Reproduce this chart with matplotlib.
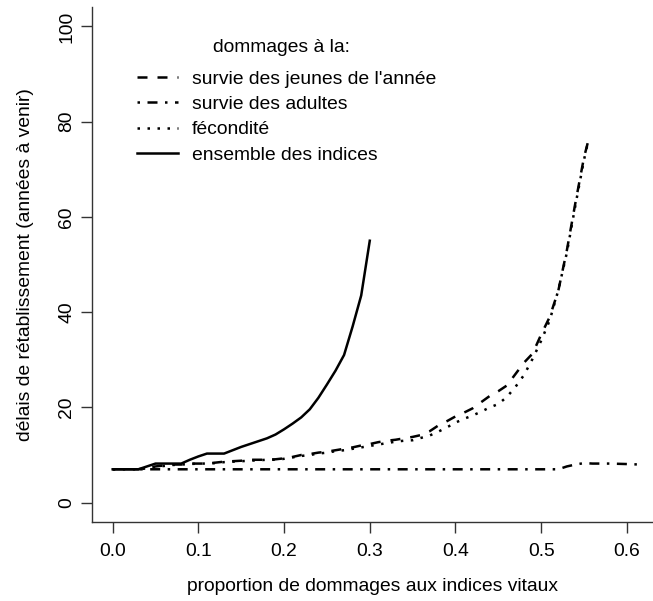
import matplotlib
matplotlib.use("Agg")
import matplotlib.pyplot as plt

plt.rcParams['font.family'] = ['Liberation Sans', 'DejaVu Sans']

# proportion of damage (x) and recovery delay in years (y)
x_jeunes = [0.00, 0.01, 0.02, 0.03, 0.04, 0.05, 0.06, 0.07, 0.08, 0.09,
            0.10, 0.11, 0.12, 0.13, 0.14, 0.15, 0.16, 0.17, 0.18, 0.19,
            0.20, 0.21, 0.22, 0.23, 0.24, 0.25, 0.26, 0.27, 0.28, 0.29,
            0.30, 0.31, 0.32, 0.33, 0.34, 0.35, 0.36, 0.37, 0.38, 0.39,
            0.40, 0.41, 0.42, 0.43, 0.44, 0.45, 0.46, 0.47, 0.48, 0.49,
            0.50, 0.51, 0.52, 0.53, 0.54, 0.55, 0.555]
y_jeunes = [7, 7, 7, 7, 7.3, 7.6, 7.8, 8, 8, 8.2,
            8.2, 8.2, 8.4, 8.6, 8.7, 8.8, 9, 9, 9, 9.1,
            9.3, 9.6, 10, 10.2, 10.5, 10.7, 11, 11.3, 11.6, 12,
            12.3, 12.7, 13, 13.2, 13.5, 13.8, 14.2, 15, 16.2, 17.1,
            18.1, 18.9, 19.8, 21.1, 22.4, 23.4, 24.6, 27, 29.4, 31.3,
            35.3, 39, 44.5, 53, 63, 72.5, 76]

x_adultes = [0.00, 0.05, 0.10, 0.15, 0.20, 0.25, 0.30, 0.35, 0.40, 0.45,
             0.50, 0.52, 0.53, 0.54, 0.55, 0.56, 0.58, 0.60, 0.615]
y_adultes = [7, 7, 7, 7, 7, 7, 7, 7, 7, 7,
             7, 7, 7.6, 8, 8.3, 8.2, 8.2, 8.1, 8]

x_fecondite = x_jeunes
y_fecondite = [7, 7, 7, 7, 7.2, 7.5, 7.7, 7.9, 8, 8.1,
               8.2, 8.2, 8.3, 8.5, 8.6, 8.7, 8.8, 8.9, 9, 9,
               9.2, 9.5, 9.8, 10, 10.3, 10.5, 10.8, 11, 11.3, 11.6,
               11.9, 12.2, 12.5, 12.8, 13, 13.1, 13.6, 14.1, 14.9, 15.8,
               16.8, 17.6, 18.3, 19.1, 20, 20.7, 22.2, 24.3, 26.8, 30.2,
               34, 38.3, 44.6, 52.5, 62.5, 72, 76]

x_ensemble = [0.00, 0.01, 0.02, 0.03, 0.04, 0.05, 0.06, 0.07, 0.08, 0.09,
              0.10, 0.11, 0.12, 0.13, 0.14, 0.15, 0.16, 0.17, 0.18, 0.19,
              0.20, 0.21, 0.22, 0.23, 0.24, 0.25, 0.26, 0.27, 0.28, 0.29,
              0.30]
y_ensemble = [7, 7, 7, 7, 7.6, 8.2, 8.2, 8.2, 8.2, 9,
              9.7, 10.3, 10.3, 10.3, 11, 11.7, 12.3, 12.9, 13.5, 14.3,
              15.4, 16.6, 17.9, 19.6, 22, 24.8, 27.7, 31, 37, 43.5,
              55]

labels = ["survie des jeunes de l'année", "survie des adultes",
          "fécondité", "ensemble des indices"]

fs = 13.9

fig = plt.figure(figsize=(6.53, 6.01), dpi=100)
ax = fig.add_axes([0.1404, 0.132, 0.8596, 0.8557])

lw = 1.8
ax.plot(x_jeunes, y_jeunes, color='black', lw=lw, linestyle=(0, (4, 4)), label=labels[0])
ax.plot(x_adultes, y_adultes, color='black', lw=lw, linestyle=(0, (1, 3, 4, 3)), label=labels[1])
ax.plot(x_fecondite, y_fecondite, color='black', lw=lw, linestyle=(0, (1, 3)), label=labels[2])
ax.plot(x_ensemble, y_ensemble, color='black', lw=lw, linestyle='-', label=labels[3])

ax.set_xlim(-0.0245, 0.6305)
ax.set_ylim(-4, 104)
ax.set_xticks([0.0, 0.1, 0.2, 0.3, 0.4, 0.5, 0.6])
ax.set_xticklabels(['0.0', '0.1', '0.2', '0.3', '0.4', '0.5', '0.6'])
ax.set_yticks([0, 20, 40, 60, 80, 100])
for lbl in ax.get_yticklabels():
    lbl.set_rotation(90)
    lbl.set_va('center')

ax.spines['top'].set_visible(False)
ax.spines['right'].set_visible(False)
for s in ('left', 'bottom'):
    ax.spines[s].set_linewidth(1.0)
    ax.spines[s].set_color('#333333')
ax.tick_params(direction='out', length=8, width=1.0, labelsize=fs, pad=7, color='#333333')
ax.tick_params(axis='y', pad=4)

ax.set_xlabel('proportion de dommages aux indices vitaux', fontsize=fs, labelpad=13)
ax.set_ylabel('délais de rétablissement (années à venir)', fontsize=fs, labelpad=17)

fig.text(281 / 653, 1 - 47 / 601, 'dommages à la:', fontsize=fs,
         ha='center', va='center')
ax.legend(loc='upper left', bbox_to_anchor=(137 / 653, 1 - 70 / 601),
          bbox_transform=fig.transFigure, frameon=False, fontsize=fs,
          handlelength=2.1, handletextpad=0.75, labelspacing=0.41,
          borderpad=0, borderaxespad=0)

fig.savefig('out.png', dpi=100)
